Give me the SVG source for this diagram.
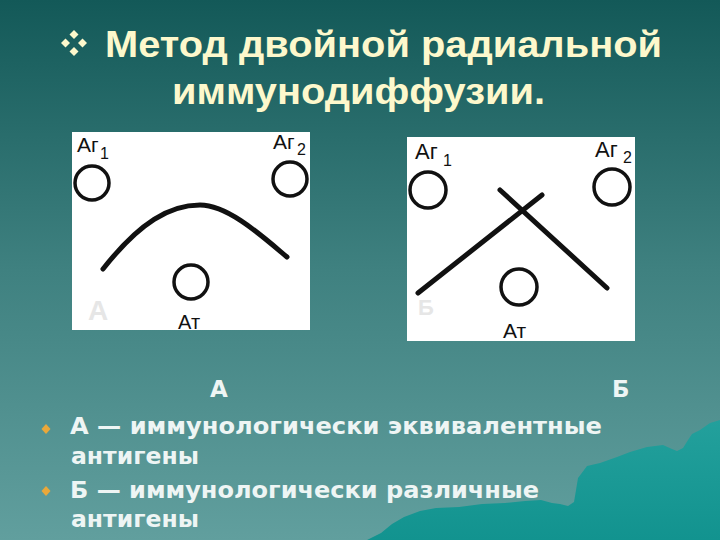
<svg xmlns="http://www.w3.org/2000/svg" width="720" height="540" viewBox="0 0 720 540">
  <defs>
    <linearGradient id="bg" x1="0" y1="0" x2="0" y2="1">
      <stop offset="0" stop-color="#135958"/>
      <stop offset="0.5" stop-color="#3f8180"/>
      <stop offset="1" stop-color="#619f9e"/>
    </linearGradient>
    <linearGradient id="mt" x1="0" y1="0" x2="0" y2="1">
      <stop offset="0" stop-color="#23a09c"/>
      <stop offset="1" stop-color="#12938f"/>
    </linearGradient>
    <style>
      .title { font-family: "Liberation Sans", Arial, sans-serif; font-weight: bold; font-size: 37px; fill: #fdf8cc; }
      .panel { fill: #ffffff; }
      .lbl { font-family: "Liberation Sans", Arial, sans-serif; fill: #111111; }
      .ring { fill: none; stroke: #111111; stroke-width: 3.5; }
      .band { fill: none; stroke: #111111; stroke-width: 5; stroke-linecap: round; }
      .faint { font-family: "Liberation Sans", Arial, sans-serif; font-weight: bold; fill: #e6e6e6; }
      .body { font-family: "DejaVu Sans", Verdana, sans-serif; font-weight: bold; font-size: 23px; fill: #eef5f4; }
      .bullet { fill: #eaa83a; }
    </style>
  </defs>

  <rect width="720" height="540" fill="url(#bg)"/>
  <polygon fill="url(#mt)" points="367,540 381,533 392,524 404,517 420,511 436,508 459,507 482,504 505,503 525,501 541,500 552,503 560,504 568,506 574,502 576,490 578,478 587,466 600,463 617,457 630,452 647,447 663,445 672,449 677,451 683,448 688,440 692,434 700,430 710,423 720,420 720,540"/>

  <g id="title">
    <polygon fill="#fdf8cc" points="74,30 78.5,34.5 74,39 69.5,34.5"/>
    <polygon fill="#fdf8cc" points="65.5,38.5 70,43 65.5,47.5 61,43"/>
    <polygon fill="#fdf8cc" points="82.5,38.5 87,43 82.5,47.5 78,43"/>
    <polygon fill="#fdf8cc" points="74,47 78.5,51.5 74,56 69.5,51.5"/>
    <text class="title" x="105" y="57" textLength="557" lengthAdjust="spacingAndGlyphs">Метод двойной радиальной</text>
    <text class="title" x="172" y="104" textLength="373" lengthAdjust="spacingAndGlyphs">иммунодиффузии.</text>
  </g>

  <g id="panel-a">
    <rect class="panel" x="72" y="132" width="238" height="198"/>
    <text class="lbl" x="77" y="152" font-size="21">Аг</text>
    <text class="lbl" x="100" y="159" font-size="16">1</text>
    <text class="lbl" x="273" y="149" font-size="21">Аг</text>
    <text class="lbl" x="297" y="155" font-size="16">2</text>
    <circle class="ring" cx="92" cy="183" r="17"/>
    <circle class="ring" cx="290" cy="179" r="17"/>
    <circle class="ring" cx="191" cy="282" r="17"/>
    <text class="lbl" x="178" y="329" font-size="20">Ат</text>
    <text class="faint" x="88" y="320" font-size="28" font-weight="normal">А</text>
    <path class="band" d="M103,269 C140,222 170,205 200,205 C228,205 262,236 287,257"/>
  </g>

  <g id="panel-b">
    <rect class="panel" x="407" y="137" width="228" height="204"/>
    <text class="lbl" x="415" y="159" font-size="22">Аг</text>
    <text class="lbl" x="443" y="166" font-size="16">1</text>
    <text class="lbl" x="595" y="157" font-size="22">Аг</text>
    <text class="lbl" x="623" y="163" font-size="16">2</text>
    <circle class="ring" cx="428" cy="190" r="18"/>
    <circle class="ring" cx="612" cy="187" r="18"/>
    <circle class="ring" cx="519" cy="287" r="18"/>
    <text class="lbl" x="503" y="338" font-size="21">Ат</text>
    <text class="faint" x="418" y="315" font-size="22">Б</text>
    <path class="band" d="M418,293 L542,195"/>
    <path class="band" d="M500,190 L607,288"/>
  </g>

  <g id="captions">
    <text class="body" x="210" y="397" font-size="22">А</text>
    <text class="body" x="612" y="397" font-size="22">Б</text>
  </g>

  <g id="bullets">
    <polygon class="bullet" points="46,424 50.5,429 46,434 41.5,429"/>
    <text class="body" x="70" y="434" textLength="532" lengthAdjust="spacingAndGlyphs">А — иммунологически эквивалентные</text>
    <text class="body" x="71" y="464" textLength="128" lengthAdjust="spacingAndGlyphs">антигены</text>
    <polygon class="bullet" points="46,486 50.5,491 46,496 41.5,491"/>
    <text class="body" x="70" y="498" textLength="469" lengthAdjust="spacingAndGlyphs">Б — иммунологически различные</text>
    <text class="body" x="71" y="527" textLength="128" lengthAdjust="spacingAndGlyphs">антигены</text>
  </g>
</svg>
